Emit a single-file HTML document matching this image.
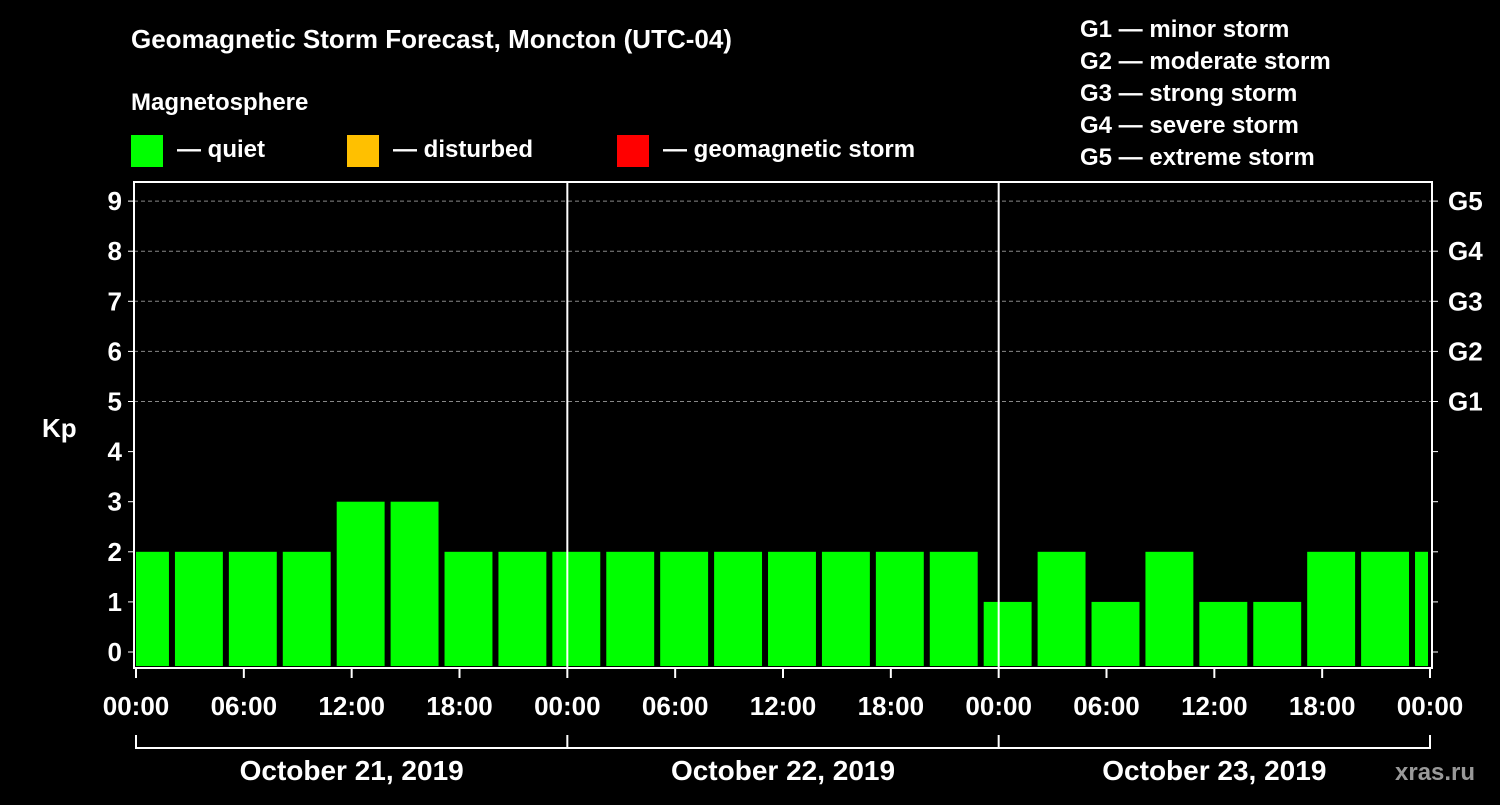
<!DOCTYPE html>
<html><head><meta charset="utf-8"><style>
body{margin:0;background:#000;width:1500px;height:800px;overflow:hidden}
svg text{font-family:"Liberation Sans",Arial,sans-serif;font-weight:bold;fill:#fff}
</style></head><body>
<svg id="c" width="1500" height="800">
<text x="131" y="48" font-size="26">Geomagnetic Storm Forecast, Moncton (UTC-04)</text>
<text x="131" y="110" font-size="24">Magnetosphere</text>
<rect x="131" y="135" width="32" height="32" fill="#00ff00"/>
<text x="177" y="157" font-size="24">— quiet</text>
<rect x="347" y="135" width="32" height="32" fill="#ffc000"/>
<text x="393" y="157" font-size="24">— disturbed</text>
<rect x="617" y="135" width="32" height="32" fill="#ff0000"/>
<text x="663" y="157" font-size="24">— geomagnetic storm</text>
<g font-size="24">
<text x="1080" y="37">G1 — minor storm</text>
<text x="1080" y="69">G2 — moderate storm</text>
<text x="1080" y="101">G3 — strong storm</text>
<text x="1080" y="133">G4 — severe storm</text>
<text x="1080" y="165">G5 — extreme storm</text>
</g>
<text x="42" y="437" font-size="26">Kp</text>
<text x="1395" y="780" font-size="24" fill="#888" style="fill:#999">xras.ru</text>
<g id="g"></g>
</svg>
<script>
const kpValues=[2,2,2,2,3,3,2,2,2,2,2,2,2,2,2,2,1,2,1,2,1,1,2,2,2];
const yTicks=[0,1,2,3,4,5,6,7,8,9];
const gLabels=["G1","G2","G3","G4","G5"];
const xLabels=["00:00","06:00","12:00","18:00","00:00","06:00","12:00","18:00","00:00","06:00","12:00","18:00","00:00"];
const dayLabels=["October 21, 2019","October 22, 2019","October 23, 2019"];
const NS="http://www.w3.org/2000/svg",g=document.getElementById('g');
const X0=136,X1=1430,T=72,L=134,R=1432,TOP=182,BOT=668;
const x=h=>X0+(X1-X0)*h/T, y=k=>652-50.1*k;
function mk(t,a){const e=document.createElementNS(NS,t);for(const k in a)e.setAttribute(k,a[k]);g.appendChild(e);return e;}
let e;
yTicks.forEach(k=>{
 if(k>=5){e=mk('line',{x1:L,x2:R,y1:y(k),y2:y(k),stroke:'#888','stroke-dasharray':'4,3'});
 }
 mk('line',{x1:L-6,x2:L,y1:y(k),y2:y(k),stroke:'#fff'});
 mk('line',{x1:R,x2:R+6,y1:y(k),y2:y(k),stroke:'#fff'});
 e=mk('text',{x:L-12,y:y(k)+9,'text-anchor':'end','font-size':26});e.textContent=k;
 
});
gLabels.forEach((s,i)=>{e=mk('text',{x:R+16,y:y(5+i)+9,'font-size':26});e.textContent=s;
 });
kpValues.forEach((v,i)=>{
 let a=x(3*i-1)+3,b=x(3*i+2)-3;a=Math.max(a,X0);b=Math.min(b,X1-2);
 e=mk('rect',{x:a,y:y(v),width:b-a,height:BOT-2-y(v),fill:v>=5?'#ff0000':(v>=4?'#ffc000':'#00ff00')});
 
});
e=mk('rect',{x:L,y:TOP,width:R-L,height:BOT-TOP,fill:'none',stroke:'#fff','stroke-width':2});

[24,48].forEach(h=>{e=mk('line',{x1:x(h),x2:x(h),y1:TOP,y2:BOT,stroke:'#fff','stroke-width':2});
 });
xLabels.forEach((s,i)=>{mk('line',{x1:x(6*i),x2:x(6*i),y1:BOT,y2:BOT+10,stroke:'#fff','stroke-width':2});
 e=mk('text',{x:x(6*i),y:715,'text-anchor':'middle','font-size':26});e.textContent=s;
 });
mk('line',{x1:X0,x2:X1,y1:748,y2:748,stroke:'#fff','stroke-width':2});
[0,24,48,72].forEach(h=>mk('line',{x1:x(h),x2:x(h),y1:735,y2:749,stroke:'#fff','stroke-width':2}));
dayLabels.forEach((s,i)=>{e=mk('text',{x:x(24*i+12),y:780,'text-anchor':'middle','font-size':28});e.textContent=s;
 });
</script>
</body></html>
